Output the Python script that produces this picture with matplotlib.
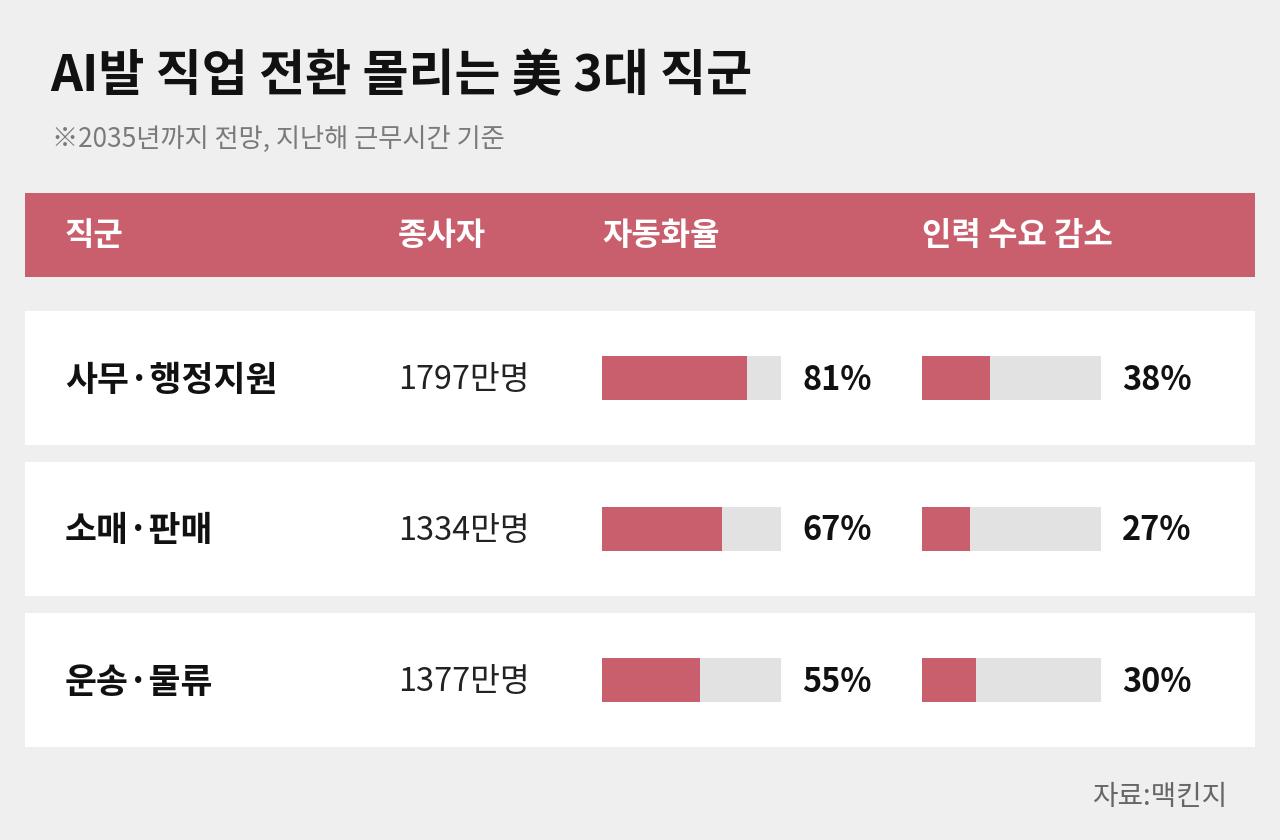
import matplotlib
matplotlib.use("Agg")
import matplotlib.pyplot as plt
from matplotlib.patches import Rectangle

plt.rcParams['font.family'] = ['Noto Sans CJK KR', 'DejaVu Sans']

# ---- data ----
title = "AI발 직업 전환 몰리는 美 3대 직군"
subtitle = "※2035년까지 전망, 지난해 근무시간 기준"
source = "자료:맥킨지"
headers = ["직군", "종사자", "자동화율", "인력 수요 감소"]
categories = ["사무·행정지원", "소매·판매", "운송·물류"]
workers = ["1797만명", "1334만명", "1377만명"]
automation = [81, 67, 55]
demand_drop = [38, 27, 30]

# ---- style ----
BG = "#efefef"
RED = "#c95f6c"
TRACK = "#e2e2e2"
W, H = 1280, 840

fig = plt.figure(figsize=(W / 100, H / 100), dpi=100, facecolor=BG)
ax = fig.add_axes([0, 0, 1, 1])
ax.set_xlim(0, W)
ax.set_ylim(H, 0)
ax.axis("off")

# title & subtitle
ax.text(50, 77, title, fontsize=36, fontweight="bold", color="#111111", va="center", ha="left")
ax.text(52, 139, subtitle, fontsize=18.9, color="#7a7a7a", va="center", ha="left")

# header band
ax.add_patch(Rectangle((25, 193), 1230, 84, facecolor=RED, edgecolor="none"))
col_x = [65, 398, 602, 922]
for x, h in zip(col_x, headers):
    ax.text(x, 236, h, fontsize=23, fontweight="bold", color="white", va="center", ha="left")

# rows
row_top0 = 311
row_h = 134
row_step = 151
row_centers = []
for i in range(len(categories)):
    top = row_top0 + i * row_step
    ax.add_patch(Rectangle((25, top), 1230, row_h, facecolor="white", edgecolor="none"))
    cy = top + row_h / 2
    row_centers.append(cy)
    ty = cy + 2
    ax.text(65, ty, categories[i], fontsize=25, fontweight="bold", color="#111111", va="center", ha="left")
    ax.text(398, ty, workers[i], fontsize=23.3, color="#222222", va="center", ha="left")
    ax.text(802, ty, f"{automation[i]}%", fontsize=23.4, fontweight="bold", color="#111111", va="center", ha="left")
    ax.text(1122, ty, f"{demand_drop[i]}%", fontsize=23.4, fontweight="bold", color="#111111", va="center", ha="left")

# bar axes (library scales: 0-100 %)
bar_len = 179
n = len(categories)
y0 = row_centers[0] - row_step / 2
y1 = row_centers[-1] + row_step / 2
bar_h = 44 / row_step
for x0, vals in [(602, automation), (922, demand_drop)]:
    bax = fig.add_axes([x0 / W, 1 - y1 / H, bar_len / W, (y1 - y0) / H])
    bax.set_xlim(0, 100)
    bax.set_ylim(n - 0.5, -0.5)
    bax.axis("off")
    bax.patch.set_alpha(0)
    ypos = list(range(n))
    bax.barh(ypos, [100] * n, height=bar_h, color=TRACK, edgecolor="none")
    bax.barh(ypos, vals, height=bar_h, color=RED, edgecolor="none")

# source
ax.text(1227, 797, source, fontsize=20, color="#666666", va="center", ha="right")

fig.savefig("out.png", dpi=100, facecolor=BG)
